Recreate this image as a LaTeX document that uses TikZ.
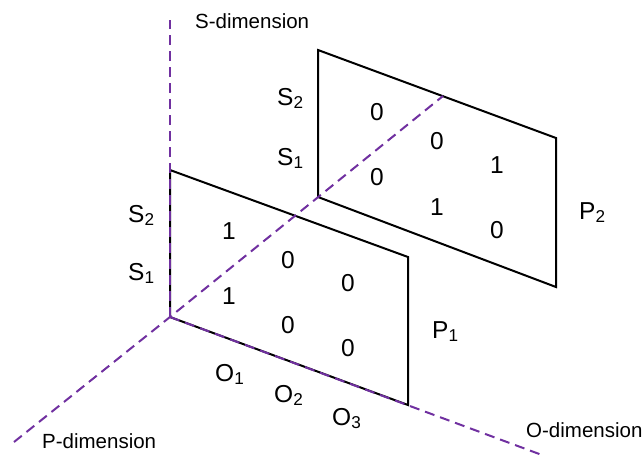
\documentclass[tikz,border=0pt]{standalone}
\usepackage{fontspec}
\setmainfont{Liberation Sans}
\definecolor{axispurple}{HTML}{7030A0}
\begin{document}
\begin{tikzpicture}[x=1pt,y=-1pt,
  plane/.style={draw=black,line width=2pt,line join=miter},
  axisline/.style={draw=axispurple,line width=2pt,dash pattern=on 10pt off 6pt},
  axislabel/.style={inner sep=0pt,anchor=base west,font=\fontsize{20.5}{24}\selectfont},
  dimlabel/.style={inner sep=0pt,anchor=base west,font=\fontsize{24.5}{28}\selectfont},
  cell/.style={inner sep=0pt,anchor=center,font=\fontsize{24.5}{28}\selectfont}]
\useasboundingbox (0,0) rectangle (644,456);
% corners of the front plane (P1)
\coordinate (f1) at (170,317);
\coordinate (f2) at (170,170);
\coordinate (f3) at (408,257);
\coordinate (f4) at (408,405);
% corners of the back plane (P2)
\coordinate (b1) at (318,197);
\coordinate (b2) at (318,50);
\coordinate (b3) at (556,138);
\coordinate (b4) at (556,287);
% axis ends
\coordinate (sEnd) at (170,20);
\coordinate (pEnd) at (14,442);
\coordinate (pTop) at (443,96);
\coordinate (oEnd) at (542,455);
% planes
\draw[plane] (b1) -- (b2) -- (b3) -- (b4) -- cycle;
\draw[plane] (f1) -- (f2) -- (f3) -- (f4) -- cycle;
% axes
\draw[axisline] (f1) -- (sEnd);
\draw[axisline] (pEnd) -- (f1) -- (pTop);
\draw[axisline] (f1) -- (oEnd);
% axis labels
\node[axislabel] (sdim) at (195,28) {S-dimension};
\node[axislabel] (pdim) at (42,448) {P-dimension};
\node[axislabel] (odim) at (526,437) {O-dimension};
% row / column labels
\node[dimlabel] (bs2) at (277,105) {S\textsubscript{2}};
\node[dimlabel] (bs1) at (277,165) {S\textsubscript{1}};
\node[dimlabel] (fs2) at (128,222) {S\textsubscript{2}};
\node[dimlabel] (fs1) at (128,280) {S\textsubscript{1}};
\node[dimlabel] (o1) at (215,381) {O\textsubscript{1}};
\node[dimlabel] (o2) at (274,402) {O\textsubscript{2}};
\node[dimlabel] (o3) at (332,425) {O\textsubscript{3}};
\node[dimlabel] (p1) at (432,338) {P\textsubscript{1}};
\node[dimlabel] (p2) at (579,219) {P\textsubscript{2}};
% front plane cells
\node[cell] (fa) at (229,231) {1};
\node[cell] (fb) at (288,260) {0};
\node[cell] (fc) at (348,283) {0};
\node[cell] (fd) at (229,296) {1};
\node[cell] (fe) at (288,325) {0};
\node[cell] (ff) at (348,348) {0};
% back plane cells
\node[cell] (ba) at (377,112) {0};
\node[cell] (bb) at (437,141) {0};
\node[cell] (bc) at (497,165) {1};
\node[cell] (bd) at (377,177) {0};
\node[cell] (be) at (437,207) {1};
\node[cell] (bf) at (497,230) {0};
\end{tikzpicture}
\end{document}
